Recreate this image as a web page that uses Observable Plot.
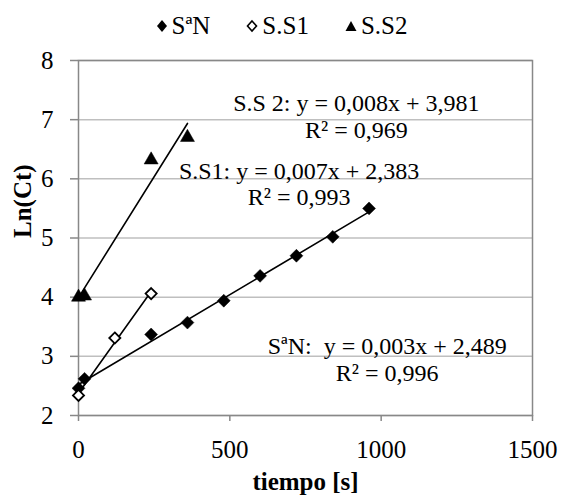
<!DOCTYPE html>
<html><head><meta charset="utf-8">
<script src="https://cdn.jsdelivr.net/npm/d3@7"></script>
<script src="https://cdn.jsdelivr.net/npm/@observablehq/plot@0.6"></script>
<style>
body{margin:0;background:#fff;font-family:"Liberation Serif","Times New Roman",serif;color:#000;}
#legend{width:563px;height:40px;padding-top:6px;display:flex;justify-content:center;align-items:center;gap:36px;font-size:25px;font-family:"Liberation Serif",serif;}
.item{display:flex;align-items:center;gap:4px;}
#chart svg, #chart svg text{font-family:"Liberation Serif",serif;}
#chart svg text{white-space:pre;}
</style></head><body>
<div id="legend"></div>
<div id="chart"></div>
<script>
// Series names (legend)
const seriesNames = ["SªN", "S.S1", "S.S2"];
// SªN: time [s] and Ln(Ct)
const tSaN = [0, 20, 240, 360, 480, 600, 720, 840, 960];
const lnSaN = [2.46, 2.62, 3.37, 3.57, 3.94, 4.36, 4.70, 5.02, 5.50];
// S.S1
const tSS1 = [0, 120, 240];
const lnSS1 = [2.34, 3.31, 4.06];
// S.S2
const tSS2 = [0, 20, 240, 360];
const lnSS2 = [4.00, 4.02, 6.32, 6.70];
// Axis ticks
const xTicks = [0, 500, 1000, 1500];
const yTicks = [2, 3, 4, 5, 6, 7, 8];
// Trendline equation labels (anchor in data units: time, Ln(Ct) of last line baseline)
const eqTexts = ["S.S 2: y = 0,008x + 3,981\nR² = 0,969", "S.S1: y = 0,007x + 2,383\nR² = 0,993", "SªN:  y = 0,003x + 2,489\nR² = 0,996"];
const eqT = [918, 729, 1020];
const eqLn = [6.69, 5.55, 2.58];

const rows = (name, ts, vs) => ts.map((t, i) => ({series: name, t, v: vs[i]}));
const saN = rows(seriesNames[0], tSaN, lnSaN);
const ss1 = rows(seriesNames[1], tSS1, lnSS1);
const ss2 = rows(seriesNames[2], tSS2, lnSS2);
const eqs = eqTexts.map((text, i) => ({text, t: eqT[i], v: eqLn[i]}));

// Legend
const glyphs = [
  '<svg width="12" height="14"><polygon points="6,1 11,7 6,13 1,7" fill="#000"/></svg>',
  '<svg width="12" height="14"><polygon points="6,2 10.5,7 6,12 1.5,7" fill="#fff" stroke="#000" stroke-width="1.6"/></svg>',
  '<svg width="12" height="12"><polygon points="6,1 11.5,11 0.5,11" fill="#000"/></svg>'
];
document.getElementById("legend").innerHTML = seriesNames.map((n, i) =>
  `<span class="item">${glyphs[i]}<span>${n}</span></span>`).join("");

const fmt = d => String(d);
const chart = Plot.plot({
  width: 563, height: 453,
  marginTop: 14, marginLeft: 78, marginRight: 31, marginBottom: 84,
  style: {fontFamily: "'Liberation Serif', serif", fontSize: "25px", color: "#000", background: "#fff"},
  x: {domain: [0, 1500]},
  y: {domain: [2, 8]},
  marks: [
    Plot.gridY(yTicks, {stroke: "#bfbfbf", strokeOpacity: 1, strokeWidth: 1.5}),
    Plot.frame({stroke: "#888", strokeWidth: 1.5}),
    Plot.axisX(xTicks, {tickSize: 6, tickPadding: 19, stroke: "#888", strokeWidth: 1.5, label: null, tickFormat: fmt}),
    Plot.axisY(yTicks, {tickSize: 8, tickPadding: 17, stroke: "#888", strokeWidth: 1.5, label: null, tickFormat: fmt}),
    Plot.text(["tiempo [s]"], {frameAnchor: "bottom", dy: 74, fontWeight: "bold", fontSize: 25}),
    Plot.text(["Ln(Ct)"], {frameAnchor: "left", dx: -56, rotate: -90, fontWeight: "bold", fontSize: 25}),
    Plot.linearRegressionY(saN, {x: "t", y: "v", ci: 0, stroke: "#000", strokeWidth: 1.6}),
    Plot.linearRegressionY(ss1, {x: "t", y: "v", ci: 0, stroke: "#000", strokeWidth: 1.6}),
    Plot.linearRegressionY(ss2, {x: "t", y: "v", ci: 0, stroke: "#000", strokeWidth: 1.6}),
    Plot.dot(saN, {x: "t", y: "v", symbol: "diamond2", r: 5.8, fill: "#000", stroke: "#000", strokeWidth: 0.5}),
    Plot.dot(ss1, {x: "t", y: "v", symbol: "diamond2", r: 5, fill: "#fff", stroke: "#000", strokeWidth: 1.8}),
    Plot.dot(ss2, {x: "t", y: "v", symbol: "triangle", r: 5.2, fill: "#000", stroke: "#000", strokeWidth: 0.5}),
    Plot.text(eqs, {x: "t", y: "v", text: "text", lineAnchor: "bottom", lineHeight: 1.12, textAnchor: "middle", fontSize: 24})
  ]
});
document.getElementById("chart").appendChild(chart);
</script>
</body></html>
